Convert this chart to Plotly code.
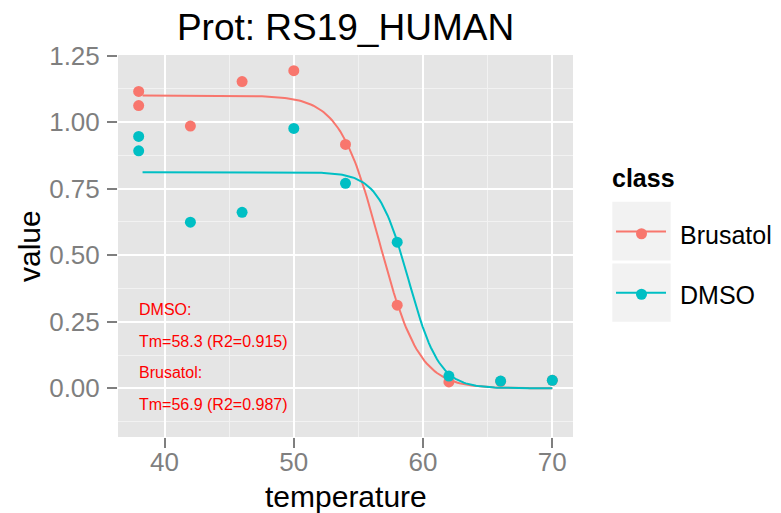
import numpy as np
import plotly.graph_objects as go

# ---- data ----
temperature = [38, 38, 42, 46, 50, 54, 58, 62, 66, 70]
brusatol_values = [1.115, 1.062, 0.985, 1.152, 1.193, 0.916, 0.312, 0.024, 0.026, 0.030]
dmso_values = [0.946, 0.892, 0.624, 0.661, 0.976, 0.770, 0.549, 0.046, 0.027, 0.030]

# fitted melting-curve parameters (top plateau, midpoint, slope)
brusatol_fit = dict(top=1.10, mid=56.62, slope=0.65, tm=56.9, r2=0.987)
dmso_fit = dict(top=0.812, mid=58.885, slope=0.85, tm=58.3, r2=0.915)
curve_range = (38.3, 70.0)

classes = ["Brusatol", "DMSO"]
colors = {"Brusatol": "#F8766D", "DMSO": "#00BFC4"}

x_ticks = [40, 50, 60, 70]
y_ticks = [0.0, 0.25, 0.50, 0.75, 1.00, 1.25]
y_tick_labels = ["0.00", "0.25", "0.50", "0.75", "1.00", "1.25"]

FONT = "Liberation Sans, Arial, Helvetica, sans-serif"

# panel placement in pixels
W, H = 781, 513
PL, PR, PT, PB = 118, 573, 55, 437


def px_x(p):
    return (p - PL) / (PR - PL)


def px_y(p):
    return (PB - p) / (PB - PT)


def sigmoid(t, p):
    return p["top"] / (1.0 + np.exp(p["slope"] * (t - p["mid"])))


t_grid = np.linspace(curve_range[0], curve_range[1], 200)

fig = go.Figure()
for name, fit in [("Brusatol", brusatol_fit), ("DMSO", dmso_fit)]:
    c = colors[name]
    fig.add_trace(go.Scatter(x=t_grid, y=sigmoid(t_grid, fit), mode="lines",
                             line=dict(color=c, width=2), legendgroup=name,
                             showlegend=False, hoverinfo="skip"))
for name, vals in [("Brusatol", brusatol_values), ("DMSO", dmso_values)]:
    c = colors[name]
    fig.add_trace(go.Scatter(x=temperature, y=vals, mode="markers",
                             marker=dict(color=c, size=11), legendgroup=name,
                             showlegend=False, name=name))
# legend entries (point; the key line is drawn as a shape across the key box)
for name in classes:
    fig.add_trace(go.Scatter(x=[None], y=[None], mode="markers", name=name,
                             legendgroup=name,
                             marker=dict(color=colors[name], size=11)))

# annotation text
ann_lines = [
    ("DMSO:", 0.295),
    ("Tm=%.1f (R2=%.3f)" % (dmso_fit["tm"], dmso_fit["r2"]), 0.177),
    ("Brusatol:", 0.058),
    ("Tm=%.1f (R2=%.3f)" % (brusatol_fit["tm"], brusatol_fit["r2"]), -0.060),
]
for txt, yv in ann_lines:
    fig.add_annotation(x=38, y=yv, xref="x", yref="y", text=txt, showarrow=False,
                       xanchor="left", yanchor="middle", xshift=-2,
                       font=dict(color="#FF0000", size=16, family=FONT))

# axis titles
fig.add_annotation(x=px_x(345.5), y=px_y(496), xref="paper", yref="paper",
                   text="temperature", showarrow=False, xanchor="center", yanchor="middle",
                   font=dict(size=30, color="black", family=FONT))
fig.add_annotation(x=px_x(29), y=px_y(246), xref="paper", yref="paper",
                   text="value", showarrow=False, xanchor="center", yanchor="middle",
                   textangle=-90, font=dict(size=30, color="black", family=FONT))

# legend title
fig.add_annotation(x=px_x(610), y=px_y(178), xref="paper", yref="paper",
                   text="<b>class</b>", showarrow=False, xanchor="left", yanchor="middle",
                   font=dict(size=25, color="black", family=FONT))

# legend key backgrounds and key lines
key_rows = [(201.7, 260.5, 231.5), (263.5, 321.7, 292.7)]
for (y0, y1, yc), name in zip(key_rows, classes):
    fig.add_shape(type="rect", xref="paper", yref="paper",
                  x0=px_x(612.3), x1=px_x(670.7), y0=px_y(y1), y1=px_y(y0),
                  fillcolor="#F2F2F2", line=dict(width=0), layer="below")
    fig.add_shape(type="line", xref="paper", yref="paper",
                  x0=px_x(616), x1=px_x(666), y0=px_y(yc), y1=px_y(yc),
                  line=dict(color=colors[name], width=2), layer="above")

grey = "#7F7F7F"
fig.update_layout(
    width=W, height=H,
    margin=dict(l=PL, r=W - PR, t=PT, b=H - PB, autoexpand=False),
    paper_bgcolor="white", plot_bgcolor="#E5E5E5",
    font=dict(family=FONT, color="black"),
    title=dict(text="Prot: RS19_HUMAN", x=(PL + PR) / 2 / W, xanchor="center",
               y=1 - 27 / H, yanchor="middle", font=dict(size=37, color="black")),
    showlegend=True,
    legend=dict(font=dict(size=25), x=px_x(603), xanchor="left",
                y=px_y(211), yanchor="top",
                bgcolor="rgba(0,0,0,0)", tracegroupgap=25, itemwidth=67),
    xaxis=dict(range=[36.4, 71.6], tickvals=x_ticks, ticktext=[str(v) for v in x_ticks],
               automargin=False,
               showgrid=True, gridcolor="white", gridwidth=2, zeroline=False,
               ticks="outside", ticklen=10, tickwidth=2, tickcolor=grey,
               ticklabelstandoff=-8,
               tickfont=dict(size=26, color=grey),
               minor=dict(showgrid=True, gridcolor="#F2F2F2", gridwidth=1, tick0=35, dtick=10),
               showline=False),
    yaxis=dict(range=[-0.183, 1.252], tickvals=y_ticks, ticktext=y_tick_labels,
               automargin=False,
               showgrid=True, gridcolor="white", gridwidth=2, zeroline=False,
               ticks="outside", ticklen=10, tickwidth=2, tickcolor=grey,
               ticklabelstandoff=2,
               tickfont=dict(size=26, color=grey),
               minor=dict(showgrid=True, gridcolor="#F2F2F2", gridwidth=1, tick0=-0.125, dtick=0.25),
               showline=False),
)

fig.write_html("out.html", config={"displayModeBar": False},
               post_script="document.body.style.margin='0';document.body.style.overflow='hidden';")
